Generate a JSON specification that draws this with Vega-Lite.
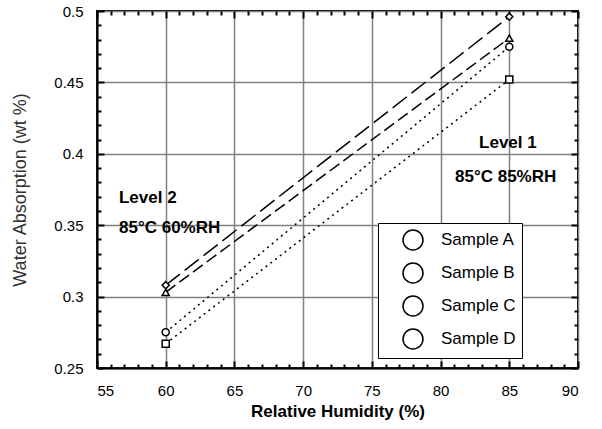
{
  "$schema": "https://vega.github.io/schema/vega-lite/v6.json",
  "autosize": {"type": "none"},
  "padding": {"left": 97, "top": 11, "right": 24, "bottom": 61},
  "width": 481,
  "height": 357,
  "background": "white",
  "config": {
    "font": "Liberation Sans",
    "view": {"stroke": "black", "strokeWidth": 2},
    "axis": {"labelFont": "Liberation Sans", "titleFont": "Liberation Sans", "labelColor": "black", "titleColor": "black", "tickColor": "black", "domainColor": "black", "gridColor": "#808080", "gridWidth": 1.5, "gridOpacity": 1}
  },
  "datasets": {
    "pts": [
      {"rh": 60, "wa": 0.275, "sample": "Sample A"},
      {"rh": 85, "wa": 0.475, "sample": "Sample A"},
      {"rh": 60, "wa": 0.267, "sample": "Sample B"},
      {"rh": 85, "wa": 0.452, "sample": "Sample B"},
      {"rh": 60, "wa": 0.303, "sample": "Sample C"},
      {"rh": 85, "wa": 0.481, "sample": "Sample C"},
      {"rh": 60, "wa": 0.308, "sample": "Sample D"},
      {"rh": 85, "wa": 0.496, "sample": "Sample D"}
    ],
    "notes": [
      {"rh": 56.6, "wa": 0.369, "label": "Level 2"},
      {"rh": 56.6, "wa": 0.348, "label": "85°C 60%RH"},
      {"rh": 82.8, "wa": 0.4076, "label": "Level 1"},
      {"rh": 81.05, "wa": 0.3838, "label": "85°C 85%RH"}
    ]
  },
  "resolve": {"axis": {"x": "independent", "y": "independent"}},
  "layer": [
    {
      "data": {"name": "pts"},
      "transform": [{"filter": "datum.sample === 'Sample A' || datum.sample === 'Sample B'"}],
      "mark": {"type": "line", "color": "black", "strokeWidth": 1.5, "strokeDash": [2, 4]},
      "encoding": {
        "x": {"field": "rh", "type": "quantitative", "scale": {"domain": [55, 90], "nice": false, "zero": false},
          "axis": {"orient": "bottom", "values": [55, 60, 65, 70, 75, 80, 85, 90], "title": "Relative Humidity (%)", "titleFontSize": 17, "titleFontWeight": "bold", "titlePadding": 5, "labelFontSize": 15, "labelPadding": 22, "tickSize": -7, "tickWidth": 2, "domainWidth": 2, "grid": true}},
        "y": {"field": "wa", "type": "quantitative", "scale": {"domain": [0.25, 0.5], "nice": false, "zero": false},
          "axis": {"orient": "left", "values": [0.25, 0.3, 0.35, 0.4, 0.45, 0.5], "format": "~g", "title": "Water Absorption (wt %)", "titleFontSize": 18, "titleFontWeight": "normal", "titleColor": "#333333", "titlePadding": 24, "labelFontSize": 15, "labelPadding": 21, "tickSize": -7, "tickWidth": 2, "domainWidth": 2, "grid": true}},
        "detail": {"field": "sample", "type": "nominal"}
      }
    },
    {
      "data": {"name": "pts"},
      "transform": [{"filter": "datum.sample === 'Sample C'"}],
      "mark": {"type": "line", "color": "black", "strokeWidth": 1.5, "strokeDash": [12, 5]},
      "encoding": {
        "x": {"field": "rh", "type": "quantitative", "axis": {"orient": "bottom", "values": [56,57,58,59,61,62,63,64,66,67,68,69,71,72,73,74,76,77,78,79,81,82,83,84,86,87,88,89], "labels": false, "title": null, "domain": false, "grid": false, "tickSize": -4, "tickWidth": 2}},
        "y": {"field": "wa", "type": "quantitative", "axis": {"orient": "left", "values": [0.26,0.27,0.28,0.29,0.31,0.32,0.33,0.34,0.36,0.37,0.38,0.39,0.41,0.42,0.43,0.44,0.46,0.47,0.48,0.49], "labels": false, "title": null, "domain": false, "grid": false, "tickSize": -4, "tickWidth": 2}}
      }
    },
    {
      "data": {"name": "pts"},
      "transform": [{"filter": "datum.sample === 'Sample D'"}],
      "mark": {"type": "line", "color": "black", "strokeWidth": 1.5, "strokeDash": [18, 6]},
      "encoding": {
        "x": {"field": "rh", "type": "quantitative", "axis": {"orient": "top", "values": [55, 60, 65, 70, 75, 80, 85, 90], "labels": false, "title": null, "domain": false, "grid": false, "tickSize": -7, "tickWidth": 2}},
        "y": {"field": "wa", "type": "quantitative", "axis": {"orient": "right", "values": [0.25, 0.3, 0.35, 0.4, 0.45, 0.5], "labels": false, "title": null, "domain": false, "grid": false, "tickSize": -7, "tickWidth": 2}}
      }
    },
    {
      "data": {"name": "pts"},
      "transform": [{"filter": "datum.sample === 'Sample A'"}],
      "mark": {"type": "point", "shape": "circle", "filled": true, "fill": "white", "stroke": "black", "strokeWidth": 1.5, "size": 50},
      "encoding": {
        "x": {"field": "rh", "type": "quantitative", "axis": {"orient": "top", "values": [56,57,58,59,61,62,63,64,66,67,68,69,71,72,73,74,76,77,78,79,81,82,83,84,86,87,88,89], "labels": false, "title": null, "domain": false, "grid": false, "tickSize": -4, "tickWidth": 2}},
        "y": {"field": "wa", "type": "quantitative", "axis": {"orient": "right", "values": [0.26,0.27,0.28,0.29,0.31,0.32,0.33,0.34,0.36,0.37,0.38,0.39,0.41,0.42,0.43,0.44,0.46,0.47,0.48,0.49], "labels": false, "title": null, "domain": false, "grid": false, "tickSize": -4, "tickWidth": 2}},
        "opacity": {"field": "sample", "type": "ordinal", "scale": {"domain": ["Sample A", "Sample B", "Sample C", "Sample D"], "range": [1, 1, 1, 1]},
          "legend": {"title": null, "orient": "none", "legendX": 281, "legendY": 212, "labelFontSize": 17, "labelColor": "black", "labelFont": "Liberation Sans", "strokeColor": "black", "fillColor": "white", "padding": 6, "rowPadding": 7, "symbolSize": 400, "symbolOffset": 18, "labelOffset": 17,
            "encode": {
              "legend": {"strokeWidth": {"value": 2}},
              "symbols": {
                "fill": {"value": "white"}, "stroke": {"value": "black"}, "strokeWidth": {"value": 1.3}, "opacity": {"value": 1}, "size": {"value": 400},
                "shape": {"value": {"expr": "datum.value === 'Sample A' ? 'M-2.1,0h0.12M-1.5,0h0.12M-0.9,0h0.12M0.75,0h0.12M1.35,0h0.12M0.35,0A0.35,0.35 0 1,1 -0.35,0A0.35,0.35 0 1,1 0.35,0Z' : datum.value === 'Sample B' ? 'M-2.1,0h0.12M-1.5,0h0.12M-0.9,0h0.12M0.75,0h0.12M1.35,0h0.12M-0.33,-0.33h0.66v0.66h-0.66Z' : datum.value === 'Sample C' ? 'M-1.7,0h0.6M0.4,0H1.75M0,-0.4L0.42,0.32H-0.42Z' : 'M-1.7,0h0.6M0.4,0H1.75M0,-0.38L0.38,0L0,0.38L-0.38,0Z'"}}
              }
            }
          }}
      }
    },
    {
      "data": {"name": "pts"},
      "transform": [{"filter": "datum.sample === 'Sample B'"}],
      "mark": {"type": "point", "shape": "square", "filled": true, "fill": "white", "stroke": "black", "strokeWidth": 1.5, "size": 50, "opacity": 1},
      "encoding": {
        "x": {"field": "rh", "type": "quantitative", "axis": null},
        "y": {"field": "wa", "type": "quantitative", "axis": null}
      }
    },
    {
      "data": {"name": "pts"},
      "transform": [{"filter": "datum.sample === 'Sample C'"}],
      "mark": {"type": "point", "shape": "triangle-up", "filled": true, "fill": "white", "stroke": "black", "strokeWidth": 1.5, "size": 50, "opacity": 1},
      "encoding": {
        "x": {"field": "rh", "type": "quantitative", "axis": null},
        "y": {"field": "wa", "type": "quantitative", "axis": null}
      }
    },
    {
      "data": {"name": "pts"},
      "transform": [{"filter": "datum.sample === 'Sample D'"}],
      "mark": {"type": "point", "shape": "diamond", "filled": true, "fill": "white", "stroke": "black", "strokeWidth": 1.5, "size": 50, "opacity": 1},
      "encoding": {
        "x": {"field": "rh", "type": "quantitative", "axis": null},
        "y": {"field": "wa", "type": "quantitative", "axis": null}
      }
    },
    {
      "data": {"name": "notes"},
      "mark": {"type": "text", "align": "left", "baseline": "middle", "fontSize": 17, "fontWeight": "bold", "color": "black", "font": "Liberation Sans"},
      "encoding": {
        "x": {"field": "rh", "type": "quantitative", "axis": null},
        "y": {"field": "wa", "type": "quantitative", "axis": null},
        "text": {"field": "label"}
      }
    }
  ]
}
